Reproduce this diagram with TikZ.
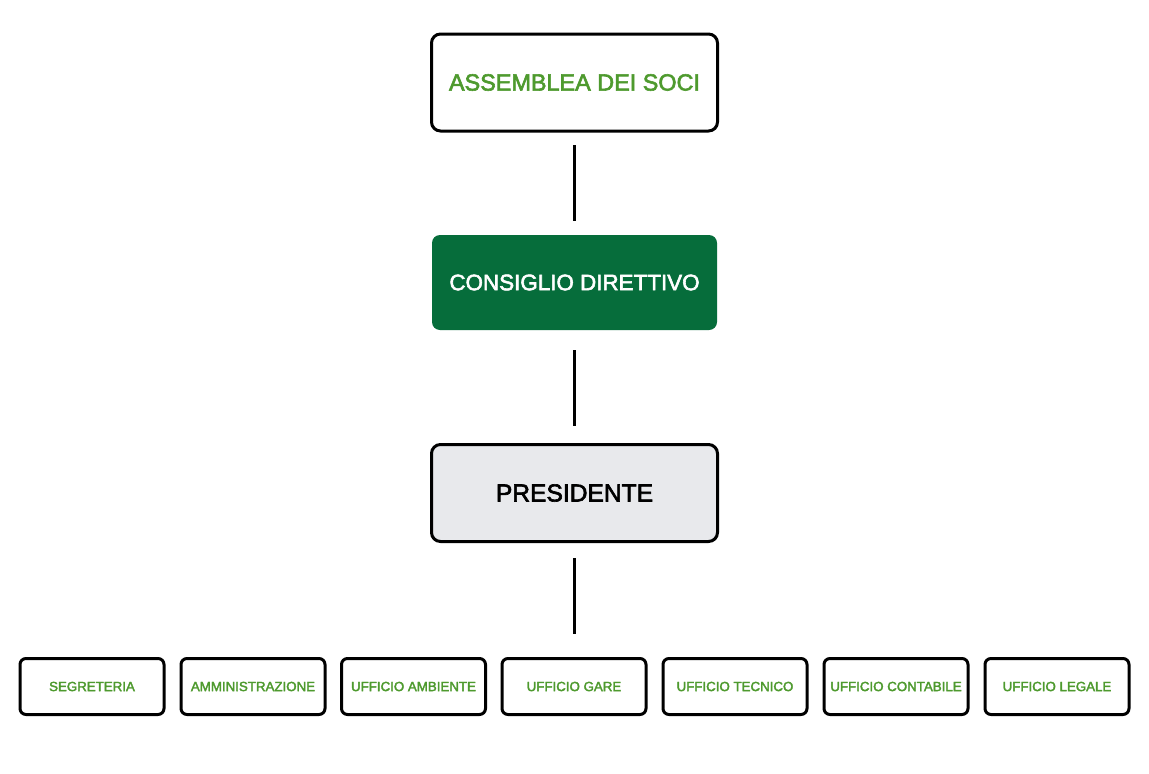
\documentclass[tikz,border=0pt]{standalone}
\usepackage{fontspec}
\setmainfont{Liberation Sans}
\newfontfamily\medfont{Liberation Sans}[FakeBold=2.5]
\definecolor{txtgreen}{RGB}{78,154,46}
\definecolor{darkgreen}{RGB}{6,109,59}
\definecolor{lightgray}{RGB}{232,233,236}
\tikzset{
  x=1pt, y=-1pt,
  bigbox/.style={draw=black, line width=3pt, rounded corners=9pt, minimum width=286pt, minimum height=97pt, inner sep=0pt},
  greenbox/.style={fill=darkgreen, rounded corners=8pt, minimum width=285pt, minimum height=95pt, inner sep=0pt, text=white},
  smallbox/.style={draw=black, line width=3pt, rounded corners=6pt, minimum width=144pt, minimum height=56pt, inner sep=0pt, text=txtgreen, font=\medfont\fontsize{13.3}{15}\selectfont},
  conn/.style={line width=3pt}
}
\begin{document}
\begin{tikzpicture}
\useasboundingbox (0,0) rectangle (1149,774);
\fill[white] (0,0) rectangle (1149,774);
\node[bigbox, text=txtgreen, font=\medfont\fontsize{23.4}{26}\selectfont] (ass) at (574.5,82.5) {ASSEMBLEA DEI SOCI};
\node[greenbox, font=\medfont\fontsize{22.4}{25}\selectfont] (cons) at (574.5,282.5) {CONSIGLIO DIRETTIVO};
\node[bigbox, fill=lightgray, font=\medfont\fontsize{24.6}{27}\selectfont] (pres) at (574.5,493) {\raisebox{-2pt}{PRESIDENTE}};
\coordinate (l1a) at (574.5,145); \coordinate (l1b) at (574.5,221);
\coordinate (l2a) at (574.5,350); \coordinate (l2b) at (574.5,426);
\coordinate (l3a) at (574.5,558); \coordinate (l3b) at (574.5,634);
\draw[conn] (l1a) -- (l1b);
\draw[conn] (l2a) -- (l2b);
\draw[conn] (l3a) -- (l3b);
\node[smallbox] (b1) at (92,686.5) {\raisebox{-1.5pt}{SEGRETERIA}};
\node[smallbox] (b2) at (253,686.5) {\raisebox{-1.5pt}{AMMINISTRAZIONE}};
\node[smallbox] (b3) at (413.5,686.5) {\raisebox{-1.5pt}{UFFICIO AMBIENTE}};
\node[smallbox] (b4) at (574,686.5) {\raisebox{-1.5pt}{UFFICIO GARE}};
\node[smallbox] (b5) at (735,686.5) {\raisebox{-1.5pt}{UFFICIO TECNICO}};
\node[smallbox] (b6) at (896,686.5) {\raisebox{-1.5pt}{UFFICIO CONTABILE}};
\node[smallbox] (b7) at (1057,686.5) {\raisebox{-1.5pt}{UFFICIO LEGALE}};
\end{tikzpicture}
\end{document}
